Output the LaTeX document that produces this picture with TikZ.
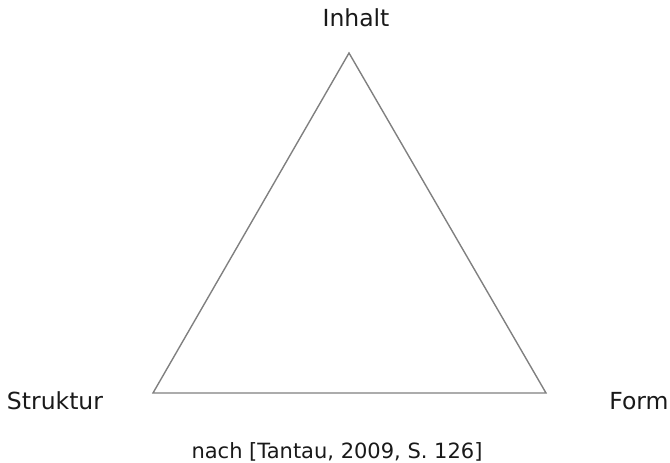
\documentclass[tikz,border=0pt]{standalone}
\usepackage{fontspec}
\setmainfont{DejaVu Sans}
\begin{document}
\begin{tikzpicture}[x=1pt,y=1pt,
  edge/.style={draw=black!50, line width=1.4pt, line join=miter},
  vlabel/.style={anchor=base, inner sep=0pt, font=\fontsize{23.5}{28}\selectfont, text=black!90},
  caption/.style={anchor=base, inner sep=0pt, font=\fontsize{21}{25}\selectfont, text=black!90}]
\useasboundingbox (0,0) rectangle (670,463);
\coordinate (top) at (349,410);
\coordinate (bl) at (153,70);
\coordinate (br) at (546,70);
\draw[edge] (top) -- (bl) -- (br) -- cycle;
\node[vlabel] (inhalt) at (356,436) {Inhalt};
\node[vlabel] (struktur) at (55,53) {Struktur};
\node[vlabel] (form) at (639,53) {Form};
\node[caption] (cap) at (337,4) {nach [Tantau, 2009, S. 126]};
\end{tikzpicture}
\end{document}
